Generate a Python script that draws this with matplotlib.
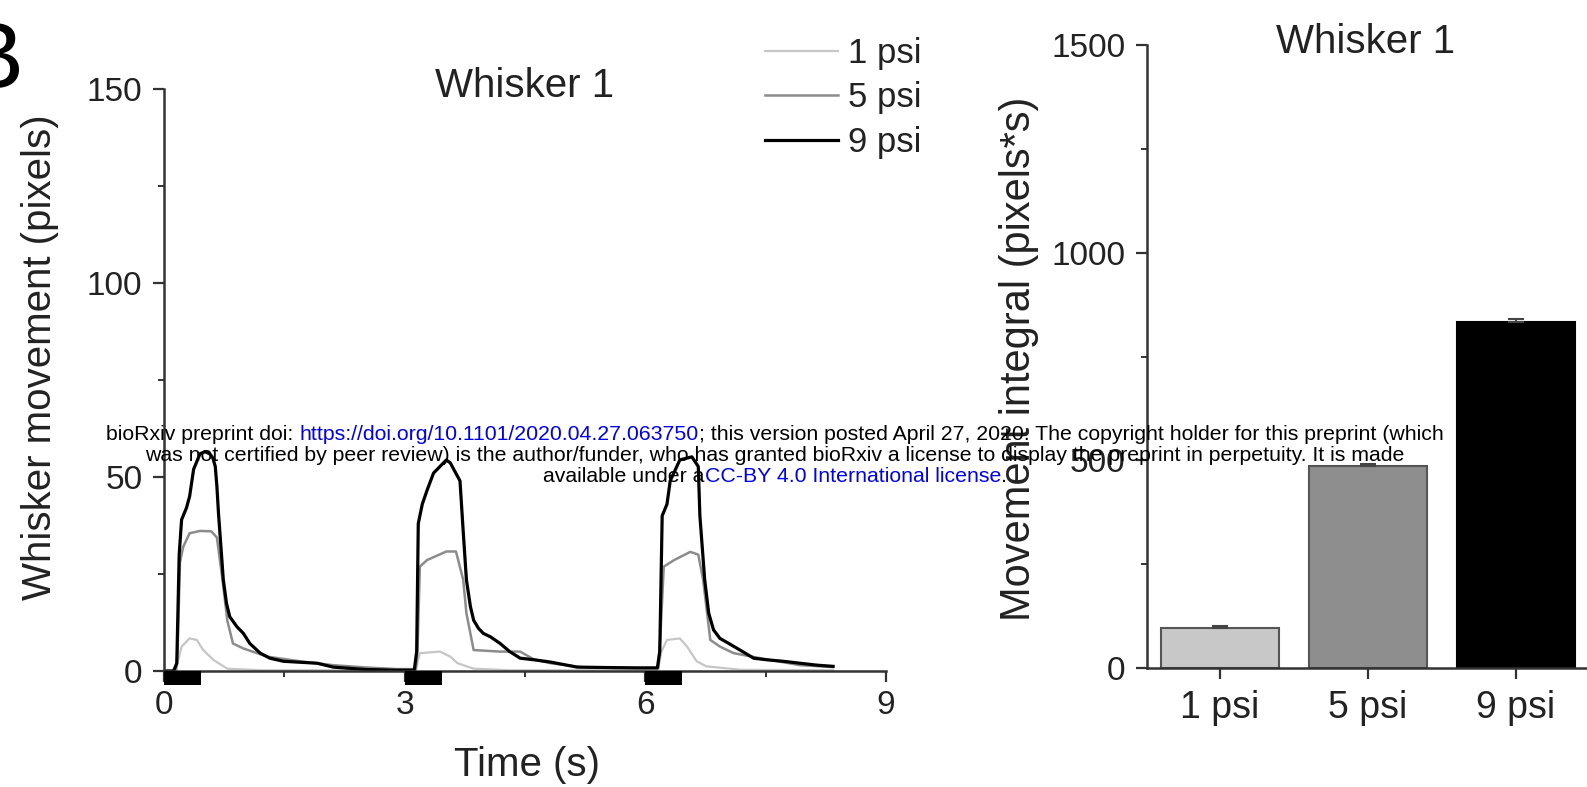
import matplotlib
matplotlib.use('Agg')
import matplotlib.pyplot as plt
from matplotlib.patches import Rectangle
import numpy as np

plt.rcParams['font.family'] = ['Liberation Sans', 'DejaVu Sans']

# whisker traces (time in s, movement in pixels)
t_9psi = [0.00, 0.12, 0.16, 0.19, 0.22, 0.28, 0.32, 0.37, 0.45, 0.51, 0.57, 0.61, 0.64, 0.66, 0.68,
          0.71, 0.74, 0.78, 0.82, 0.91, 0.99, 1.07, 1.20, 1.32, 1.49, 1.91, 2.11, 2.50, 2.90, 3.12,
          3.15, 3.17, 3.22, 3.28, 3.36, 3.52, 3.57, 3.69, 3.73, 3.77, 3.82, 3.86, 3.92, 3.98, 4.07,
          4.19, 4.31, 4.44, 4.61, 4.82, 5.15, 5.50, 5.90, 6.15, 6.18, 6.21, 6.27, 6.31, 6.43, 6.58,
          6.66, 6.68, 6.74, 6.79, 6.85, 6.93, 7.04, 7.18, 7.35, 7.51, 7.72, 8.14, 8.34]
v_9psi = [0.0, 0.0, 2.0, 30.0, 39.0, 42.0, 45.0, 52.0, 56.0, 56.5, 56.0, 54.9, 52.7, 47.6, 40.6,
          32.1, 23.5, 17.4, 14.0, 11.4, 9.7, 7.1, 4.6, 3.3, 2.5, 2.0, 1.0, 0.4, 0.2, 0.2,
          5.0, 38.0, 43.0, 46.6, 51.0, 54.4, 53.6, 49.0, 36.0, 23.5, 16.6, 13.1, 11.0, 9.7, 8.8,
          7.1, 5.0, 3.3, 2.9, 2.3, 1.0, 0.9, 0.8, 0.8, 5.0, 40.0, 43.0, 49.0, 54.4, 55.2,
          52.7, 40.0, 23.5, 14.9, 10.6, 8.4, 7.1, 5.4, 3.3, 2.9, 2.5, 1.5, 1.2]

t_5psi = [0.00, 0.15, 0.17, 0.20, 0.24, 0.32, 0.45, 0.59, 0.66, 0.73, 0.79, 0.86, 0.99, 1.29, 1.70,
          2.11, 2.53, 2.90, 3.14, 3.16, 3.19, 3.28, 3.52, 3.64, 3.73, 3.77, 3.86, 4.19, 4.44, 4.61,
          4.82, 5.20, 5.60, 6.16, 6.19, 6.23, 6.36, 6.56, 6.66, 6.72, 6.81, 6.93, 7.10, 7.51, 7.93, 8.34]
v_5psi = [0.0, 0.0, 5.0, 28.0, 32.0, 35.5, 36.1, 36.0, 34.4, 23.5, 13.0, 7.1, 5.8, 3.7, 2.5,
          1.5, 0.9, 0.5, 0.5, 5.0, 26.9, 28.6, 30.8, 30.8, 23.5, 14.9, 5.4, 5.0, 5.0, 3.0,
          2.0, 1.0, 0.8, 0.8, 10.0, 26.9, 28.6, 30.7, 30.0, 23.5, 8.0, 6.3, 4.6, 3.0, 1.5, 1.0]

t_1psi = [0.00, 0.15, 0.18, 0.22, 0.32, 0.41, 0.49, 0.62, 0.79, 1.20, 3.14, 3.17, 3.19, 3.44, 3.57,
          3.66, 3.86, 4.30, 6.16, 6.20, 6.27, 6.43, 6.52, 6.64, 6.76, 7.20, 8.34]
v_1psi = [0.0, 0.0, 3.0, 6.3, 8.4, 8.0, 5.4, 2.8, 0.6, 0.2, 0.2, 3.0, 4.6, 5.0, 3.7,
          2.0, 0.6, 0.2, 0.2, 5.0, 8.0, 8.4, 6.3, 2.5, 1.2, 0.3, 0.2]

# air puff stimuli
stim_onsets = [0.0, 3.0, 6.0]
stim_duration = 0.46

# movement integral bars
bar_labels = ['1 psi', '5 psi', '9 psi']
bar_values = [96, 487, 833]
bar_errors = [5, 4, 8]

series_labels = ['1 psi', '5 psi', '9 psi']
series_colors = ['#c6c6c6', '#8c8c8c', '#000000']
series_widths = [1.6, 1.8, 2.3]
bar_colors = ['#c8c8c8', '#8e8e8e', '#000000']
bar_edges = ['#555555', '#555555', '#000000']

axis_color = '#333333'
text_color = '#222222'

fig = plt.figure(figsize=(15.87, 7.87), dpi=100)
ax1 = fig.add_axes([0.1033, 0.1474, 0.4550, 0.7395])
ax2 = fig.add_axes([0.7228, 0.1512, 0.2772, 0.7916])

# ---- left panel: traces ----
traces = [(t_1psi, v_1psi), (t_5psi, v_5psi), (t_9psi, v_9psi)]
for (t, v), lab, c, lw in zip(traces, series_labels, series_colors, series_widths):
    ax1.plot(t, v, color=c, lw=lw, label=lab, solid_joinstyle='round')

for s in stim_onsets:
    ax1.add_patch(Rectangle((s, -3.7), stim_duration, 3.7, facecolor='black',
                            edgecolor='none', clip_on=False, zorder=5))

ax1.set_xlim(0, 9)
ax1.set_ylim(0, 150)
ax1.set_xticks([0, 3, 6, 9])
ax1.set_xticks([1.5, 4.5, 7.5], minor=True)
ax1.set_yticks([0, 50, 100, 150])
ax1.set_yticks([25, 75, 125], minor=True)

ax1.text(4.49, 147.9, 'Whisker 1', ha='center', va='baseline', fontsize=29, color=text_color)
ax1.set_xlabel('Time (s)', fontsize=29, color=text_color)
ax1.xaxis.set_label_coords(0.5025, -0.129)
ax1.set_ylabel('Whisker movement (pixels)', fontsize=29, color=text_color)
ax1.yaxis.set_label_coords(-0.1454, 0.5395)

ax1.legend(loc='upper left', bbox_to_anchor=(765 / 1587, 1 - 37 / 787),
           bbox_transform=fig.transFigure, frameon=False, fontsize=25,
           handlelength=2.1, handletextpad=0.3, labelspacing=0.33,
           borderpad=0, borderaxespad=0, labelcolor=text_color)

# ---- right panel: bars ----
x = np.arange(len(bar_labels))
ax2.bar(x, bar_values, width=0.8, color=bar_colors, edgecolor=bar_edges, linewidth=1.5, zorder=2)
ax2.errorbar(x, bar_values, yerr=[np.zeros(len(x)), bar_errors], fmt='none',
             ecolor='#444444', elinewidth=1.5, capsize=6, capthick=1.5, zorder=3)
ax2.set_xlim(-0.493, 2.48)
ax2.set_ylim(0, 1500)
ax2.set_xticks(x)
ax2.set_xticklabels(bar_labels)
ax2.set_yticks([0, 500, 1000, 1500])
ax2.set_yticks([250, 750, 1250], minor=True)
ax2.text(0.986, 1481, 'Whisker 1', ha='center', va='baseline', fontsize=29, color=text_color)
ax2.set_ylabel('Movement integral (pixels*s)', fontsize=30, color=text_color)
ax2.yaxis.set_label_coords(-0.2455, 0.497)

for ax in (ax1, ax2):
    for side in ('top', 'right'):
        ax.spines[side].set_visible(False)
    for side in ('left', 'bottom'):
        ax.spines[side].set_color(axis_color)
        ax.spines[side].set_linewidth(1.8)
    ax.tick_params(which='major', length=8, width=1.6, color=axis_color,
                   labelcolor=text_color, labelsize=24)
    ax.tick_params(which='minor', length=4, width=1.4, color=axis_color)
    ax.tick_params(axis='y', which='major', pad=7.5)
    ax.tick_params(axis='x', which='major', pad=6)
ax2.tick_params(axis='x', labelsize=27, pad=8)

# panel letter
fig.text(-0.0252, 0.8882, 'B', fontsize=68, ha='left', va='baseline', color='black')

# ---- bioRxiv stamp ----
renderer = fig.canvas.get_renderer()


def text_width(s, size):
    probe = fig.text(0, 0, s + '|', fontsize=size)
    bar = fig.text(0, 0, '|', fontsize=size)
    w = probe.get_window_extent(renderer).width - bar.get_window_extent(renderer).width
    probe.remove()
    bar.remove()
    return w


stamp_lines = [
    [('bioRxiv preprint doi: ', 'black'),
     ('https://doi.org/10.1101/2020.04.27.063750', '#0000ee'),
     ('; this version posted April 27, 2020. The copyright holder for this preprint (which', 'black')],
    [('was not certified by peer review) is the author/funder, who has granted bioRxiv a license '
      'to display the preprint in perpetuity. It is made', 'black')],
    [('available under a', 'black'),
     ('CC-BY 4.0 International license', '#0000ee'),
     ('.', 'black')],
]
stamp_baselines = [440, 461, 482]
stamp_size = 15.35
stamp_center = 775
H = fig.get_size_inches()[1] * fig.dpi
for parts, yb in zip(stamp_lines, stamp_baselines):
    full = ''.join(p for p, _ in parts)
    x0 = stamp_center - text_width(full, stamp_size) / 2
    prefix = ''
    for s, c in parts:
        xs = x0 + text_width(prefix, stamp_size) if prefix else x0
        fig.text(xs, H - yb, s, fontsize=stamp_size, color=c, ha='left', va='baseline',
                 transform=None, zorder=10)
        prefix += s

fig.savefig('out.png', dpi=100)
